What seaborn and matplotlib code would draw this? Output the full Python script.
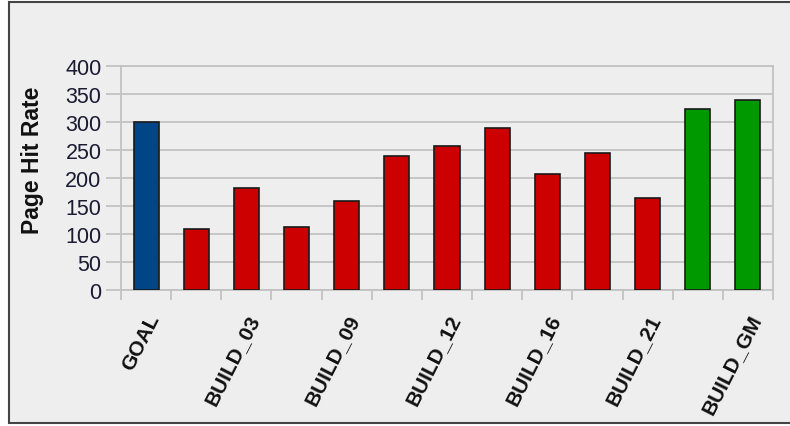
import matplotlib
matplotlib.use("Agg")
import matplotlib.pyplot as plt
import seaborn as sns
import pandas as pd
from matplotlib.patches import Rectangle

categories = ["GOAL", "BUILD_01", "BUILD_03", "BUILD_06", "BUILD_09", "BUILD_11",
              "BUILD_12", "BUILD_14", "BUILD_16", "BUILD_18", "BUILD_21", "BUILD_RC", "BUILD_GM"]
values = [300, 109, 183, 113, 159, 240, 258, 289, 208, 245, 164, 324, 340]
groups = ["goal"] + ["build"] * 10 + ["final"] * 2
palette = {"goal": "#004586", "build": "#CC0000", "final": "#009900"}
yticks = [0, 50, 100, 150, 200, 250, 300, 350, 400]
ylabel = "Page Hit Rate"

df = pd.DataFrame({"category": categories, "value": values, "group": groups})

sns.set_theme(style="white")
plt.rcParams["font.family"] = ["Liberation Sans", "DejaVu Sans"]

bg = "#EEEEEE"
fig = plt.figure(figsize=(7.9, 4.27), dpi=100)
fig.patch.set_facecolor("white")
# chart frame
fig.patches.append(Rectangle((9 / 790, 3 / 427), 800 / 790, 421 / 427, transform=fig.transFigure,
                             facecolor=bg, edgecolor="#444444", linewidth=1.5, zorder=-10))

ax = fig.add_axes([121 / 790, (427 - 291) / 427, 652 / 790, 224 / 427])
ax.set_zorder(1)
ax.set_facecolor(bg)

sns.barplot(data=df, x="category", y="value", hue="group", palette=palette,
            order=categories, dodge=False, width=0.5, edgecolor="#1a1a1a",
            linewidth=1.2, legend=False, saturation=1, ax=ax, zorder=3)

ax.set_xlim(-0.5, len(categories) - 0.5)
ax.set_ylim(0, 400)
ax.set_yticks(yticks)
ax.set_yticklabels([str(v) for v in yticks], fontsize=15.5, color="#1a1a33")
ax.grid(axis="y", color="#C2C2C2", linewidth=1.3, zorder=0)
ax.set_axisbelow(True)

for s in ax.spines.values():
    s.set_color("#C2C2C2")
    s.set_linewidth(1.3)

ax.tick_params(axis="y", which="major", length=11, width=1.3, color="#C2C2C2",
               left=True, pad=3)
# x: minor ticks at category boundaries, labels every other category
ax.set_xticks([i for i in range(len(categories))])
ax.set_xticklabels([c if i % 2 == 0 else "" for i, c in enumerate(categories)],
                   rotation=63, ha="right", rotation_mode="anchor",
                   fontsize=15, fontweight="bold", color="#111111")
ax.tick_params(axis="x", which="major", length=0, pad=15)
ax.set_xticks([i + 0.5 for i in range(-1, len(categories))], minor=True)
ax.tick_params(axis="x", which="minor", length=7, width=1.3, color="#C2C2C2", bottom=True)

ax.set_xlabel("")
ax.set_ylabel(ylabel, fontsize=16.5, fontweight="bold", color="#111111")
ax.yaxis.set_label_coords(-0.118, 0.585)

fig.savefig("out.png", dpi=100, facecolor=fig.get_facecolor())
